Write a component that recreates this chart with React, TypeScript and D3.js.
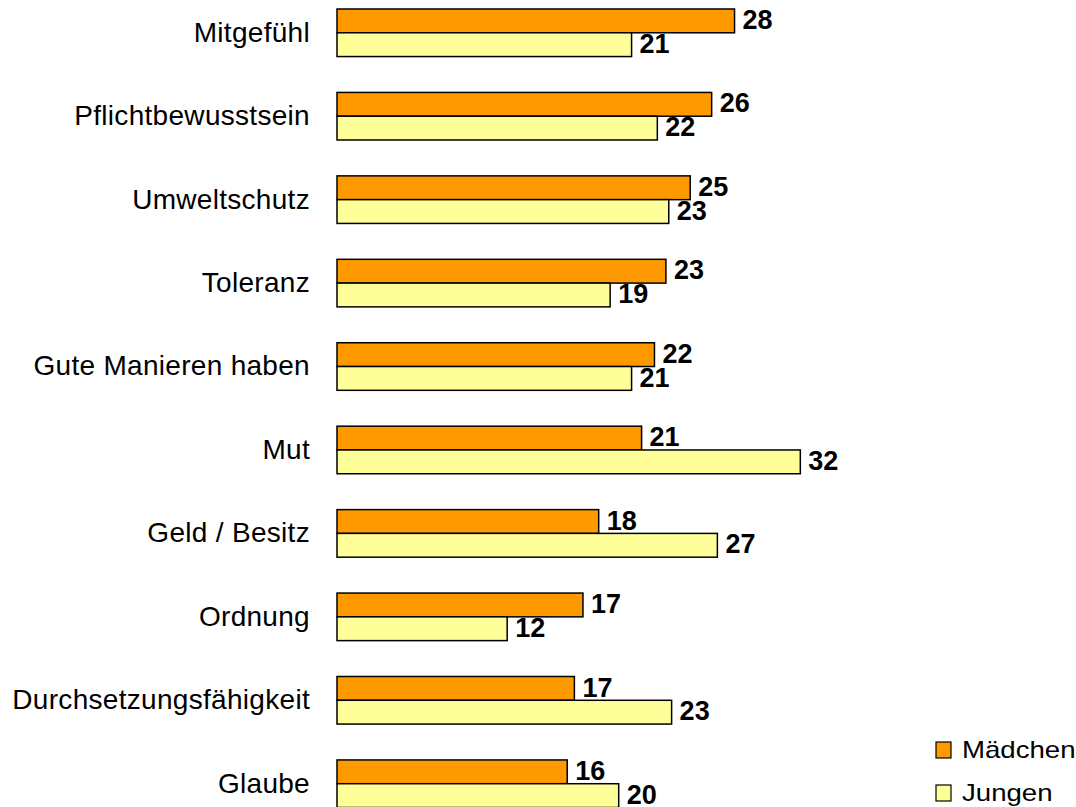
import React from "react";
import * as d3 from "d3";

// categories top to bottom
const categories = [
  "Mitgefühl",
  "Pflichtbewusstsein",
  "Umweltschutz",
  "Toleranz",
  "Gute Manieren haben",
  "Mut",
  "Geld / Besitz",
  "Ordnung",
  "Durchsetzungsfähigkeit",
  "Glaube",
];

const series = ["Mädchen", "Jungen"];
// values (labels show them rounded)
const maedchen = [27.8, 26.2, 24.7, 23.0, 22.2, 21.3, 18.3, 17.2, 16.6, 16.1];
const jungen = [20.6, 22.4, 23.2, 19.1, 20.6, 32.4, 26.6, 11.9, 23.4, 19.7];
const colors = ["#FF9900", "#FFFF99"];

const width = 1076;
const height = 807;

const App = () => {
  const x = d3.scaleLinear().domain([0, 40]).range([337, 337 + 572]);

  const y = d3
    .scaleBand()
    .domain(categories)
    .range([9, 807.5])
    .paddingInner(0.43)
    .paddingOuter(0);

  const ySub = d3.scaleBand().domain(series).range([0, y.bandwidth()]);

  const values = [maedchen, jungen];

  return (
    <svg
      width={width}
      height={height}
      style={{ position: "absolute", left: 0, top: 0, background: "#fff" }}
      fontFamily="'Liberation Sans', Arial, sans-serif"
    >
      {/* category labels */}
      {categories.map((c) => (
        <text
          key={c}
          x={310}
          y={(y(c) ?? 0) + y.bandwidth() / 2}
          dy="0.32em"
          textAnchor="end"
          fontSize={28}
          letterSpacing={0.3}
          fill="#000"
        >
          {c}
        </text>
      ))}

      {/* bars + value labels */}
      {series.map((s, si) =>
        categories.map((c, i) => {
          const v = values[si][i];
          const top = (y(c) ?? 0) + (ySub(s) ?? 0);
          return (
            <g key={s + c}>
              <rect
                x={x(0)}
                y={top}
                width={x(v) - x(0)}
                height={ySub.bandwidth()}
                fill={colors[si]}
                stroke="#000"
                strokeWidth={1.5}
              />
              <text
                x={x(v) + 8}
                y={top + 20}
                fontSize={27}
                fontWeight="bold"
                fill="#000"
              >
                {Math.round(v)}
              </text>
            </g>
          );
        })
      )}

      {/* legend */}
      {series.map((s, si) => {
        const base = 758 + si * 43;
        return (
          <g key={s}>
            <rect
              x={936}
              y={base - 16}
              width={15}
              height={16}
              fill={colors[si]}
              stroke="#000"
              strokeWidth={1.2}
            />
            <text
              transform={`translate(962,${base}) scale(1.2,1)`}
              fontSize={23}
              fill="#000"
            >
              {s}
            </text>
          </g>
        );
      })}
    </svg>
  );
};

export default App;
